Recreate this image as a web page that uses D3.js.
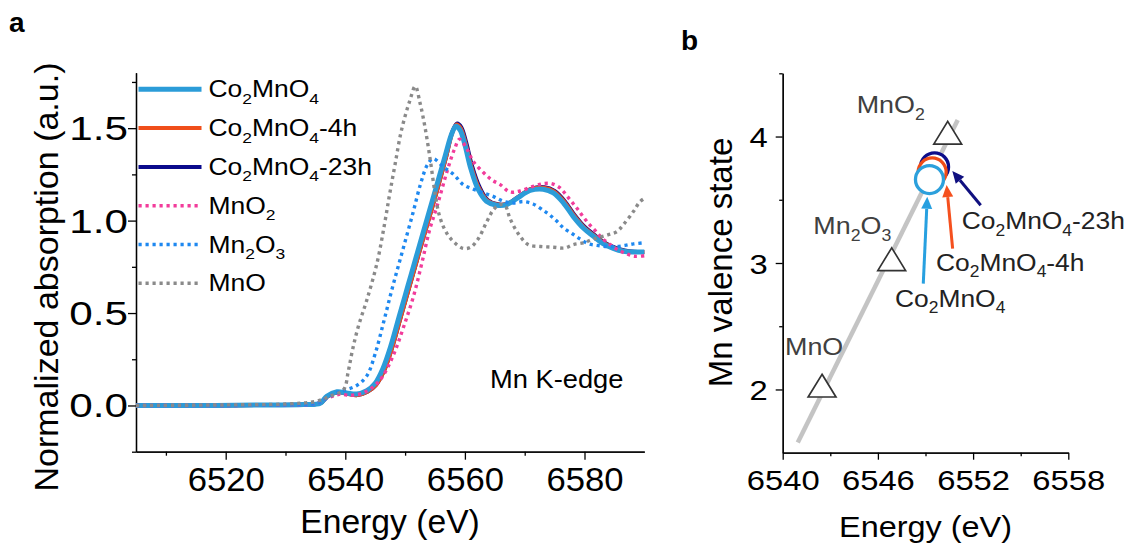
<!DOCTYPE html>
<html><head><meta charset="utf-8">
<script src="https://cdn.jsdelivr.net/npm/d3@7"></script>
<style>
html,body{margin:0;padding:0;background:#fff;}
svg{display:block;font-family:"Liberation Sans",Arial,sans-serif;}
</style></head>
<body><svg id="chart" width="1127" height="543"></svg>
<script>
// ---------------- DATA (panel a) ----------------
const coE   = [6505,6515,6525,6533,6535.8,6536.9,6538.6,6540.2,6541.9,6543.6,6545.0,6546.3,6547.6,6549.0,6550.5,6552.0,6553.6,6555.2,6556.7,6557.8,6558.5,6559.2,6560.0,6561.0,6562.2,6563.6,6565.3,6567.0,6568.7,6570.9,6573.1,6574.8,6576.5,6578.1,6579.8,6581.5,6583.1,6584.8,6586.5,6588.2,6590];
const coMu  = [0,0,0.002,0.005,0.012,0.05,0.074,0.068,0.062,0.08,0.12,0.2,0.32,0.48,0.65,0.82,1.0,1.18,1.35,1.47,1.51,1.49,1.41,1.28,1.17,1.105,1.083,1.087,1.12,1.163,1.17,1.15,1.095,1.023,0.96,0.915,0.876,0.85,0.834,0.83,0.83];
const co4hE = [6505,6515,6525,6533,6535.8,6537.0,6538.7,6540.3,6542.0,6543.7,6545.1,6546.5,6547.8,6549.2,6550.7,6552.2,6553.8,6555.4,6556.9,6557.9,6558.6,6559.3,6560.1,6561.1,6562.3,6563.7,6565.4,6567.1,6568.8,6571.0,6573.2,6574.9,6576.6,6578.2,6579.9,6581.6,6583.2,6584.9,6586.6,6588.3,6590];
const co4hMu= [0,0,0.002,0.005,0.012,0.048,0.072,0.064,0.056,0.074,0.11,0.19,0.31,0.47,0.64,0.81,0.99,1.17,1.35,1.475,1.52,1.5,1.42,1.29,1.18,1.11,1.087,1.09,1.125,1.17,1.178,1.158,1.103,1.03,0.965,0.92,0.88,0.853,0.836,0.83,0.83];
const co23E = [6505,6515,6525,6533,6535.8,6537.0,6538.7,6540.3,6542.0,6543.7,6545.1,6546.5,6547.8,6549.2,6550.7,6552.2,6553.8,6555.4,6556.9,6557.9,6558.7,6559.4,6560.2,6561.2,6562.4,6563.8,6565.5,6567.2,6568.9,6571.1,6573.3,6575.0,6576.7,6578.3,6580.0,6581.7,6583.3,6585.0,6586.7,6588.4,6590];
const co23Mu= [0,0,0.002,0.005,0.012,0.048,0.072,0.064,0.056,0.074,0.11,0.19,0.31,0.47,0.64,0.81,0.99,1.17,1.35,1.48,1.525,1.505,1.425,1.295,1.185,1.112,1.088,1.092,1.128,1.172,1.18,1.16,1.105,1.032,0.967,0.922,0.882,0.855,0.838,0.831,0.83];
const mno2E = [6505,6520,6530,6535,6537,6539,6541,6543,6545,6546.3,6548.2,6549.8,6551.4,6552.8,6554.1,6555.5,6557.1,6558.3,6559.1,6560.3,6561.4,6563.1,6564.5,6565.9,6567.5,6569.2,6571.4,6573.1,6574.5,6575.9,6576.9,6577.9,6578.9,6579.8,6580.8,6581.8,6582.9,6584.3,6585.7,6587.1,6588.4,6590];
const mno2Mu= [0,0,0.003,0.01,0.04,0.06,0.055,0.068,0.11,0.16,0.285,0.43,0.59,0.77,0.95,1.095,1.276,1.39,1.44,1.39,1.32,1.26,1.22,1.195,1.155,1.16,1.185,1.2,1.2,1.177,1.14,1.1,1.06,1.02,0.98,0.946,0.906,0.87,0.84,0.82,0.807,0.81];
const mn2o3E = [6505,6520,6530,6535,6537,6538.6,6540.2,6541.9,6543.6,6545.0,6546.4,6547.9,6549.6,6551.3,6552.6,6553.7,6554.7,6556.4,6558.1,6559.7,6561.4,6563.1,6564.8,6566.4,6568.1,6569.8,6571.4,6573.1,6574.2,6575.4,6576.5,6577.9,6579.3,6580.7,6582.1,6583.8,6585.4,6586.8,6588.2,6590];
const mn2o3Mu= [0,0,0.003,0.01,0.04,0.07,0.086,0.108,0.16,0.28,0.45,0.64,0.84,1.04,1.2,1.3,1.335,1.29,1.25,1.195,1.17,1.15,1.13,1.105,1.095,1.103,1.09,1.055,1.03,0.996,0.96,0.93,0.9,0.874,0.866,0.86,0.86,0.866,0.874,0.88];
const mnoE  = [6505,6520,6530,6535.2,6537.4,6539.7,6540.5,6541.2,6542.2,6543.6,6545.3,6546.5,6547.4,6548.3,6549.4,6550.8,6551.7,6552.5,6553.3,6554.2,6555.0,6555.8,6557.0,6558.3,6559.7,6560.9,6562.2,6563.6,6564.8,6565.9,6566.8,6567.5,6568.9,6570.6,6572.6,6574.8,6576.7,6578.1,6579.8,6581.5,6584.0,6585.4,6586.5,6588.2,6589.2,6590];
const mnoMu = [0,0.003,0.008,0.023,0.05,0.086,0.185,0.3,0.43,0.57,0.77,0.97,1.14,1.3,1.49,1.65,1.726,1.636,1.51,1.33,1.15,1.02,0.93,0.88,0.85,0.855,0.9,0.99,1.06,1.087,1.077,1.015,0.93,0.87,0.86,0.856,0.852,0.87,0.88,0.9,0.924,0.94,0.978,1.05,1.1,1.12];
const seriesNames = ["Co_2MnO_4","Co_2MnO_4-4h","Co_2MnO_4-23h","MnO_2","Mn_2O_3","MnO"];
const xTicksA = [6520,6540,6560,6580];
const yTicksA = [0.0,0.5,1.0,1.5];
// ---------------- DATA (panel b) ----------------
const refNames  = ["MnO","Mn_2O_3","MnO_2"];
const refEnergy = [6542.48,6546.87,6550.4];
const refValence= [2,3,4];
const fitEnergy = [6540.95,6551.03];
const fitValence= [1.58,4.13];
const sampleNames   = ["Co_2MnO_4-23h","Co_2MnO_4-4h","Co_2MnO_4"];
const sampleEnergy  = [6549.57,6549.42,6549.25];
const sampleValence = [3.76,3.72,3.66];
const arrowTailE = [6552.48,6550.71,6548.86];
const arrowTailV = [3.457,3.114,2.837];
const arrowTipE  = [6550.69,6550.33,6549.11];
const arrowTipV  = [3.727,3.616,3.523];
const xTicksB = [6540,6546,6552,6558];
const yTicksB = [2,3,4];

// ---------------- helpers ----------------
const svg = d3.select("#chart");
function parts(s){ // "_x" -> subscript single char
  const out=[]; let buf="";
  for(let i=0;i<s.length;i++){
    if(s[i]==="_"){ if(buf){out.push([buf,false]);buf="";} out.push([s[i+1],true]); i++; }
    else buf+=s[i];
  }
  if(buf) out.push([buf,false]);
  return out;
}
function label(g,x,y,str,o){
  o=Object.assign({size:24,sx:1,anchor:"start",rot:0,fill:"#000",weight:"normal"},o||{});
  const t=g.append("text")
    .attr("transform",`translate(${x},${y}) rotate(${o.rot}) scale(${o.sx},1)`)
    .attr("font-size",o.size).attr("text-anchor",o.anchor).attr("fill",o.fill).attr("font-weight",o.weight);
  let shifted=false;
  parts(str).forEach(([s,sub])=>{
    const ts=t.append("tspan").text(s);
    if(sub){ ts.attr("font-size",o.size*0.66).attr("dy",shifted?0:o.size*0.28); shifted=true; }
    else { ts.attr("dy",shifted?-o.size*0.28:0); shifted=false; }
  });
  return t;
}

// ---------------- panel a ----------------
const gA = svg.append("g");
const xA = d3.scaleLinear().domain([6505,6590]).range([136,644.3]);
const yA = d3.scaleLinear().domain([-0.25,1.8]).range([451.7,72.7]);

function styleAxis(g){ g.selectAll("path.domain").attr("stroke","#000").attr("stroke-width",1.3);
  g.selectAll(".tick line").attr("stroke","#000").attr("stroke-width",1.3); }

const axXA = gA.append("g").attr("transform",`translate(0,${yA.range()[0]})`)
  .call(d3.axisBottom(xA).tickValues(xTicksA).tickSize(8).tickSizeOuter(0).tickFormat(d3.format("d")));
axXA.selectAll("text").attr("font-size",33).attr("fill","#000").attr("font-family","Liberation Sans, Arial, sans-serif")
  .attr("y",0).attr("dy",0).attr("transform","translate(0,39) scale(1.05,1)");
styleAxis(axXA);
const axXAm = gA.append("g").attr("transform",`translate(0,${yA.range()[0]})`)
  .call(d3.axisBottom(xA).tickValues([6510,6530,6550,6570]).tickSize(4).tickSizeOuter(0).tickFormat(""));
styleAxis(axXAm);

const axYA = gA.append("g").attr("transform",`translate(${xA.range()[0]},0)`)
  .call(d3.axisLeft(yA).tickValues(yTicksA).tickSize(8).tickSizeOuter(0).tickFormat(d3.format(".1f")));
axYA.selectAll("text").attr("font-size",33).attr("fill","#000").attr("font-family","Liberation Sans, Arial, sans-serif")
  .attr("x",0).attr("dy",0).attr("y",0).attr("transform","translate(-8,11.5) scale(1.28,1)");
styleAxis(axYA);
const axYAm = gA.append("g").attr("transform",`translate(${xA.range()[0]},0)`)
  .call(d3.axisLeft(yA).tickValues([-0.25,0.25,0.75,1.25,1.75]).tickSize(4).tickSizeOuter(0).tickFormat(""));
styleAxis(axYAm);

label(gA,390,533,"Energy (eV)",{size:33,anchor:"middle",sx:1.02});
label(gA,58,277,"Normalized absorption (a.u.)",{size:34,anchor:"middle",rot:-90});
label(gA,9,32,"a",{size:28,weight:"bold"});
label(gA,490,388,"Mn K-edge",{size:26,sx:1.05});

const seriesData = [
  {E:coE,  M:coMu,   color:"#2B9CD8", w:5,   dash:null},
  {E:co4hE,M:co4hMu, color:"#F04E1A", w:4,   dash:null},
  {E:co23E,M:co23Mu, color:"#0A0A8C", w:4,   dash:null},
  {E:mno2E,M:mno2Mu, color:"#F23C9B", w:3.4, dash:"3.2 3.8"},
  {E:mn2o3E,M:mn2o3Mu,color:"#1E88F0", w:3.4, dash:"3.2 3.8"},
  {E:mnoE, M:mnoMu,  color:"#8A8A8A", w:3.4, dash:"3.2 3.8"}
];
const line = d3.line().x(d=>xA(d[0])).y(d=>yA(d[1])).curve(d3.curveCatmullRom.alpha(0.5));
const order=[2,1,0,3,4,5];
order.forEach(i=>{
  const s=seriesData[i];
  gA.append("path").datum(s.E.map((e,k)=>[e,s.M[k]]))
    .attr("d",line).attr("fill","none").attr("stroke",s.color).attr("stroke-width",s.w)
    .attr("stroke-dasharray",s.dash).attr("stroke-linejoin","round");
});
// legend
seriesNames.forEach((n,i)=>{
  const s=seriesData[i]; const ly=89.3+i*38.8;
  gA.append("line").attr("x1",138.5).attr("x2",s.dash?199:201.5).attr("y1",ly).attr("y2",ly)
    .attr("stroke",s.color).attr("stroke-width",s.w).attr("stroke-dasharray",s.dash);
  label(gA,208.5,ly+8,n,{size:23,sx:1.15});
});

// ---------------- panel b ----------------
const gB = svg.append("g");
const xB = d3.scaleLinear().domain([6540,6558]).range([782.7,1068.3]);
const yB = d3.scaleLinear().domain([1.5,4.5]).range([452.7,73.3]);
const axXB = gB.append("g").attr("transform",`translate(0,${yB.range()[0]})`)
  .call(d3.axisBottom(xB).tickValues(xTicksB).tickSize(7).tickSizeOuter(0).tickFormat(d3.format("d")));
axXB.selectAll("text").attr("font-size",28).attr("fill","#000").attr("font-family","Liberation Sans, Arial, sans-serif")
  .attr("y",0).attr("dy",0).attr("transform","translate(0,37.3) scale(1.17,1)");
styleAxis(axXB);
const axXBm = gB.append("g").attr("transform",`translate(0,${yB.range()[0]})`)
  .call(d3.axisBottom(xB).tickValues([6543,6549,6555]).tickSize(3.5).tickSizeOuter(0).tickFormat(""));
styleAxis(axXBm);
const axYB = gB.append("g").attr("transform",`translate(${xB.range()[0]},0)`)
  .call(d3.axisLeft(yB).tickValues(yTicksB).tickSize(7).tickSizeOuter(0).tickFormat(d3.format("d")));
axYB.selectAll("text").attr("font-size",28).attr("fill","#000").attr("font-family","Liberation Sans, Arial, sans-serif")
  .attr("x",0).attr("y",0).attr("dy",0).attr("transform","translate(-15,10) scale(1.17,1)");
styleAxis(axYB);
const axYBm = gB.append("g").attr("transform",`translate(${xB.range()[0]},0)`)
  .call(d3.axisLeft(yB).tickValues([2.5,3.5,4.5]).tickSize(3.5).tickSizeOuter(0).tickFormat(""));
styleAxis(axYBm);

label(gB,925.5,536.5,"Energy (eV)",{size:30,anchor:"middle",sx:1.08});
label(gB,731.5,262.5,"Mn valence state",{size:33,anchor:"middle",rot:-90});
label(gB,681,50,"b",{size:28,weight:"bold"});

// fit line
gB.append("line").attr("x1",xB(fitEnergy[0])).attr("y1",yB(fitValence[0]))
  .attr("x2",xB(fitEnergy[1])).attr("y2",yB(fitValence[1]))
  .attr("stroke","#C4C4C4").attr("stroke-width",4.5).attr("stroke-linecap","butt");
// reference triangles
const tri = d3.symbol().type(d3.symbolTriangle).size(300);
refEnergy.forEach((e,i)=>{
  gB.append("path").attr("d",tri()).attr("transform",`translate(${xB(e)},${yB(refValence[i])}) scale(1.06,1)`)
    .attr("fill","#fff").attr("stroke","#333").attr("stroke-width",1.6);
});
const refLabelPos = [[785,355],[813.3,234],[856.7,113.3]];
refNames.forEach((n,i)=>label(gB,refLabelPos[i][0],refLabelPos[i][1],n,{size:24,sx:1.12,fill:"#404040"}));

// sample circles
const sampColors=["#0D0D8A","#F04B16","#2CA0DC"];
sampleEnergy.forEach((e,i)=>{
  gB.append("circle").attr("cx",xB(e)).attr("cy",yB(sampleValence[i])).attr("r",14)
    .attr("fill","#fff").attr("stroke",sampColors[i]).attr("stroke-width",3.3);
});
// arrows
const arrColors=["#101080","#F5501E","#27A0E0"];
arrowTailE.forEach((e,i)=>{
  const x1=xB(e), y1=yB(arrowTailV[i]), x2=xB(arrowTipE[i]), y2=yB(arrowTipV[i]);
  const ang=Math.atan2(y2-y1,x2-x1), L=12, W=5.5;
  const bx=x2-L*Math.cos(ang), by=y2-L*Math.sin(ang);
  gB.append("line").attr("x1",x1).attr("y1",y1).attr("x2",bx).attr("y2",by)
    .attr("stroke",arrColors[i]).attr("stroke-width",3);
  const px=-Math.sin(ang), py=Math.cos(ang);
  gB.append("path").attr("d",`M${x2},${y2}L${bx+W*px},${by+W*py}L${bx-W*px},${by-W*py}Z`).attr("fill",arrColors[i]);
});
const sampLabelPos=[[961.7,229.3],[936,270.7],[895,306.7]];
sampleNames.forEach((n,i)=>label(gB,sampLabelPos[i][0],sampLabelPos[i][1],n,{size:24,sx:1.1,fill:"#222"}));
</script></body></html>
